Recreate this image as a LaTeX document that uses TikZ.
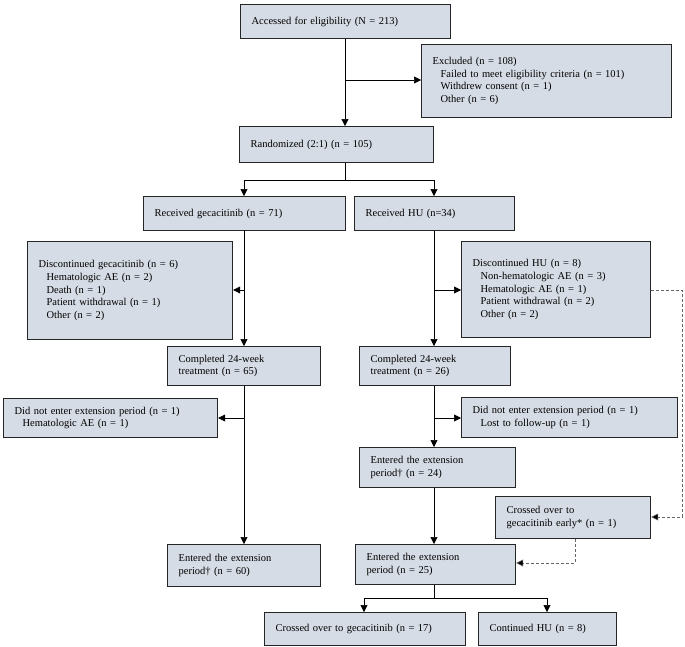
\documentclass[tikz,border=0pt]{standalone}
\usepackage{fontspec}
\setmainfont{Liberation Serif}
\usetikzlibrary{arrows.meta}

\definecolor{boxfill}{HTML}{D6DCE5}
\definecolor{boxline}{HTML}{262626}

\tikzset{
	box/.style = {draw = boxline, fill = boxfill, line width = 1.2pt, anchor = north west,
		align = left, inner xsep = 11pt, inner ysep = 2pt, font = \fontsize{10.5}{12.6}\selectfont},
	flow/.style = {line width = 0.6pt, -{Triangle[length = 7pt, width = 7pt]}},
	line/.style = {line width = 0.6pt},
	cross/.style = {line width = 0.6pt, densely dashed, draw = gray!80!black, -{Triangle[length = 7pt, width = 7pt, fill = black]}}
}
\newcommand{\ind}{\hspace*{8pt}}

\begin{document}
\begin{tikzpicture}[x = 1pt, y = -1pt]
			\useasboundingbox (0,0) rectangle (685,646);

			\node [box, text width = 188pt, minimum height = 34pt] (access) at (240,4) {Accessed for eligibility (N = 213)};
			\node [box, text width = 228pt, minimum height = 73pt] (excl) at (421,44) {Excluded (n = 108)\\\ind Failed to meet eligibility criteria (n = 101)\\\ind Withdrew consent (n = 1)\\\ind Other (n = 6)};
			\node [box, text width = 172pt, minimum height = 36pt] (rand) at (239,126) {Randomized (2:1) (n = 105)};
			\node [box, text width = 180pt, minimum height = 34pt] (recgec) at (143,196) {Received gecacitinib (n = 71)};
			\node [box, text width = 138pt, minimum height = 34pt] (rechu) at (354,196) {Received HU (n=34)};
			\node [box, text width = 183pt, minimum height = 98pt] (discgec) at (27,241) {Discontinued gecacitinib (n = 6)\\\ind Hematologic AE (n = 2)\\\ind Death (n = 1)\\\ind Patient withdrawal (n = 1)\\\ind Other (n = 2)};
			\node [box, text width = 167pt, minimum height = 96pt] (dischu) at (461,241) {Discontinued HU (n = 8)\\\ind Non-hematologic AE (n = 3)\\\ind Hematologic AE (n = 1)\\\ind Patient withdrawal (n = 2)\\\ind Other (n = 2)};
			\node [box, text width = 131pt, minimum height = 39pt] (compgec) at (167,346) {Completed 24-week\\treatment (n = 65)};
			\node [box, text width = 129pt, minimum height = 39pt] (comphu) at (359,346) {Completed 24-week\\treatment (n = 26)};
			\node [box, text width = 192pt, minimum height = 39pt] (nogec) at (3,398) {Did not enter extension period (n = 1)\\\ind Hematologic AE (n = 1)};
			\node [box, text width = 194pt, minimum height = 40pt] (nohu) at (461,397) {Did not enter extension period (n = 1)\\\ind Lost to follow-up (n = 1)};
			\node [box, text width = 134pt, minimum height = 40pt] (exthu) at (359,447) {Entered the extension\\period\textdagger\ (n = 24)};
			\node [box, text width = 133pt, minimum height = 42pt] (early) at (495,496) {Crossed over to\\gecacitinib early* (n = 1)};
			\node [box, text width = 131pt, minimum height = 42pt] (extgec) at (167,544) {Entered the extension\\period\textdagger\ (n = 60)};
			\node [box, text width = 138pt, minimum height = 40pt] (extall) at (355,544) {Entered the extension\\period (n = 25)};
			\node [box, text width = 179pt, minimum height = 33pt] (crossed) at (264,612) {Crossed over to gecacitinib (n = 17)};
			\node [box, text width = 116pt, minimum height = 33pt] (cont) at (478,612) {Continued HU (n = 8)};

			\coordinate (split) at (345,180);
			\coordinate (fork) at (434,598);

			% main flow
			\draw [flow] (access.south -| split) -- (rand.north -| split);
			\draw [flow] (345,80) -- (excl.west |- 0,80);
			\draw [line] (rand.south -| split) -- (split);
			\draw [flow] (split) -| (244,196);
			\draw [flow] (split) -| (rechu.north -| 434,0);

			\draw [flow] (244,230) -- (compgec.north -| 244,0);
			\draw [flow] (244,290) -- (discgec.east |- 0,290);
			\draw [flow] (rechu.south -| 434,0) -- (comphu.north -| 434,0);
			\draw [flow] (434,290) -- (dischu.west |- 0,290);

			\draw [flow] (compgec.south -| 244,0) -- (extgec.north -| 244,0);
			\draw [flow] (244,418) -- (nogec.east |- 0,418);
			\draw [flow] (comphu.south -| 434,0) -- (exthu.north -| 434,0);
			\draw [flow] (434,418) -- (nohu.west |- 0,418);
			\draw [flow] (exthu.south -| 434,0) -- (extall.north -| 434,0);

			\draw [line] (extall.south -| fork) -- (fork);
			\draw [flow] (fork) -| (crossed.north -| 364,0);
			\draw [flow] (fork) -| (cont.north -| 547,0);

			% crossover
			\draw [cross] (dischu.east |- 0,290) -- (682,290) -- (682,517) -- (early.east |- 0,517);
			\draw [cross] (early.south -| 575,0) -- (575,563) -- (extall.east |- 0,563);
		\end{tikzpicture}
\end{document}
